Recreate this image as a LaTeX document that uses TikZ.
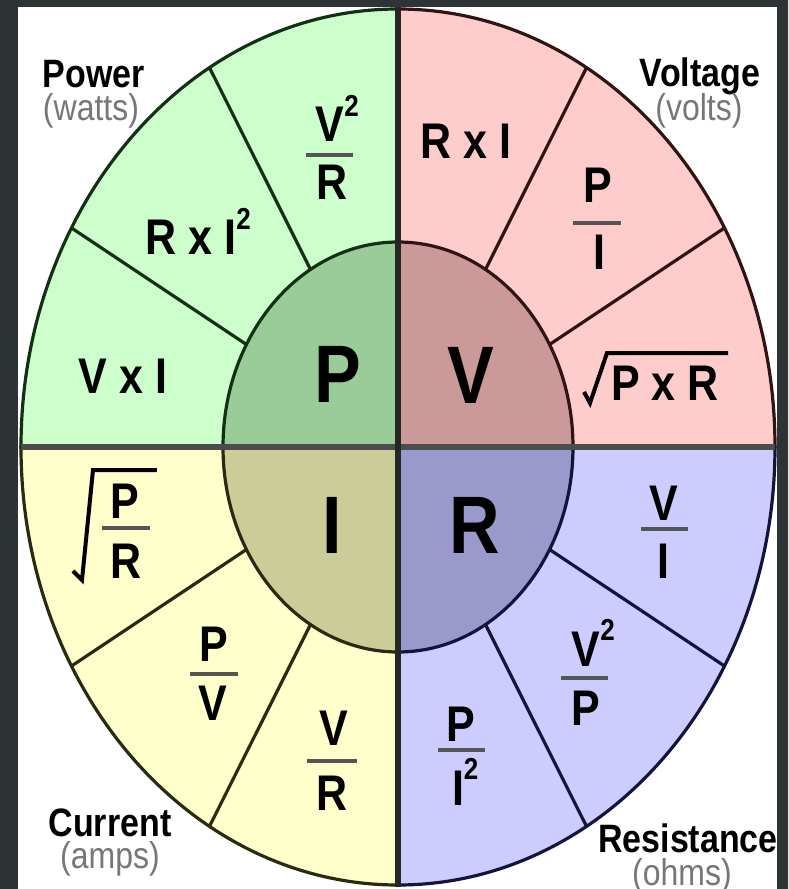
\documentclass[tikz,border=0pt]{standalone}
\usepackage{fontspec}
\setmainfont{Liberation Sans}
\definecolor{greenout}{HTML}{CCFFCC}
\definecolor{greenin}{HTML}{99CC99}
\definecolor{greenline}{HTML}{143014}
\definecolor{pinkout}{HTML}{FFCCCC}
\definecolor{pinkin}{HTML}{CC9999}
\definecolor{pinkline}{HTML}{301414}
\definecolor{yellowout}{HTML}{FFFFCC}
\definecolor{yellowin}{HTML}{CCCC99}
\definecolor{yellowline}{HTML}{2A2A10}
\definecolor{blueout}{HTML}{CCCCFF}
\definecolor{bluein}{HTML}{9999CC}
\definecolor{blueline}{HTML}{14143A}
\definecolor{barcol}{HTML}{555555}
\definecolor{unitgray}{HTML}{777777}
\definecolor{framecol}{HTML}{2E3335}
\newcommand{\sqr}{\rlap{\raisebox{11pt}{\fontsize{13}{13}\selectfont 2}}}

\begin{document}
\begin{tikzpicture}[x=0.5pt,y=0.5pt,
  qty/.style={anchor=base,inner sep=0pt,yscale=1.165,font=\fontsize{35}{40}\selectfont\bfseries},
  frm/.style={anchor=base,inner sep=0pt,yscale=1.165,font=\fontsize{21.5}{24}\selectfont\bfseries},
  lbl/.style={anchor=base,inner sep=0pt,yscale=1.165,font=\fontsize{17}{20}\selectfont\bfseries},
  lblsub/.style={anchor=base,inner sep=0pt,yscale=1.165,font=\fontsize{16}{18}\selectfont,text=unitgray},
  fbar/.style={draw=barcol,line width=2pt},
  divider/.style={line width=1.6pt},
  radical/.style={line width=2pt,line join=miter}]
  \useasboundingbox (-398,-442) rectangle (390,447);
  \fill[white] (-398,-442) rectangle (390,447);
  % outer quarters
  \filldraw[fill=pinkout,draw=pinkline,divider] (0,0) -- (0:377 and 438)
    arc[start angle=0,end angle=90,x radius=377,y radius=438] -- cycle;
  \filldraw[fill=greenout,draw=greenline,divider] (0,0) -- (90:377 and 438)
    arc[start angle=90,end angle=180,x radius=377,y radius=438] -- cycle;
  \filldraw[fill=yellowout,draw=yellowline,divider] (0,0) -- (180:377 and 438)
    arc[start angle=180,end angle=270,x radius=377,y radius=438] -- cycle;
  \filldraw[fill=blueout,draw=blueline,divider] (0,0) -- (270:377 and 438)
    arc[start angle=270,end angle=360,x radius=377,y radius=438] -- cycle;
  % inner quarters
  \filldraw[fill=pinkin,draw=pinkline,divider] (0,0) -- (0:175 and 205)
    arc[start angle=0,end angle=90,x radius=175,y radius=205] -- cycle;
  \filldraw[fill=greenin,draw=greenline,divider] (0,0) -- (90:175 and 205)
    arc[start angle=90,end angle=180,x radius=175,y radius=205] -- cycle;
  \filldraw[fill=yellowin,draw=yellowline,divider] (0,0) -- (180:175 and 205)
    arc[start angle=180,end angle=270,x radius=175,y radius=205] -- cycle;
  \filldraw[fill=bluein,draw=blueline,divider] (0,0) -- (270:175 and 205)
    arc[start angle=270,end angle=360,x radius=175,y radius=205] -- cycle;
  % dividers
  \foreach \a/\c in {30/pinkline,60/pinkline,120/greenline,150/greenline,
                     210/yellowline,240/yellowline,300/blueline,330/blueline}
    \draw[divider,draw=\c] (\a:175 and 205) -- (\a:377 and 438);
  % cross
  \draw[line width=3pt,draw=black!70] (-377,0) -- (377,0);
  \draw[line width=2.6pt,draw=black!85] (0,440) -- (0,-440);

  % power
  \node[qty] (pw) at (-60,45) {P};
  \node[frm] (vrnum) at (-68,305) {V\sqr};
  \draw[fbar] (-92,292) -- (-45,292);
  \node[frm] (vrden) at (-66,247) {R};
  \node[frm] (rii) at (-207,192) {R x I\sqr};
  \node[frm] (vi) at (-275,54) {V x I};
  \node[lbl] (power) at (-304,359) {Power};
  \node[lblsub] (watts) at (-307,326) {(watts)};

  % voltage
  \node[qty] (vt) at (73,44) {V};
  \node[frm] (ri) at (68,288) {R x I};
  \node[frm] (pinum) at (200,244) {P};
  \draw[fbar] (175,224) -- (223,224);
  \node[frm] (piden) at (201,178) {I};
  \node[frm] (pxr) at (267,47) {P x R};
  \draw[radical] (186,55) -- (192,44) -- (209,94) -- (330,94);
  \node[lbl] (voltage) at (302,360) {Voltage};
  \node[lblsub] (volts) at (301,326) {(volts)};

  % current
  \node[qty] (cr) at (-66,-106) {I};
  \node[frm] (prnum) at (-273,-71) {P};
  \draw[fbar] (-296,-81) -- (-248,-81);
  \node[frm] (prden) at (-272,-131) {R};
  \draw[radical] (-325,-124) -- (-316,-133) -- (-305,-23) -- (-241,-23);
  \node[frm] (pvnum) at (-184,-214) {P};
  \draw[fbar] (-208,-227) -- (-160,-227);
  \node[frm] (pvden) at (-185,-273) {V};
  \node[frm] (vrnum2) at (-64,-298) {V};
  \draw[fbar] (-91,-314) -- (-41,-314);
  \node[frm] (vrden2) at (-66,-363) {R};
  \node[lbl] (current) at (-288,-389) {Current};
  \node[lblsub] (amps) at (-288,-421) {(amps)};

  % resistance
  \node[qty] (rs) at (77,-106) {R};
  \node[frm] (vinum) at (266,-73) {V};
  \draw[fbar] (243,-82) -- (290,-82);
  \node[frm] (viden) at (265,-131) {I};
  \node[frm] (vpnum) at (188,-219) {V\sqr};
  \draw[fbar] (163,-231) -- (210,-231);
  \node[frm] (vpden) at (188,-278) {P};
  \node[frm] (pinum2) at (63,-294) {P};
  \draw[fbar] (40,-303) -- (87,-303);
  \node[frm] (piden2) at (60,-358) {I\sqr};
  \node[lbl] (resistance) at (290,-405) {Resistance};
  \node[lblsub] (ohms) at (284,-438) {(ohms)};

  % frame
  \fill[framecol,even odd rule] (-398,-442) rectangle (390,447)
    (-380,-442) rectangle (379,440);
\end{tikzpicture}
\end{document}
